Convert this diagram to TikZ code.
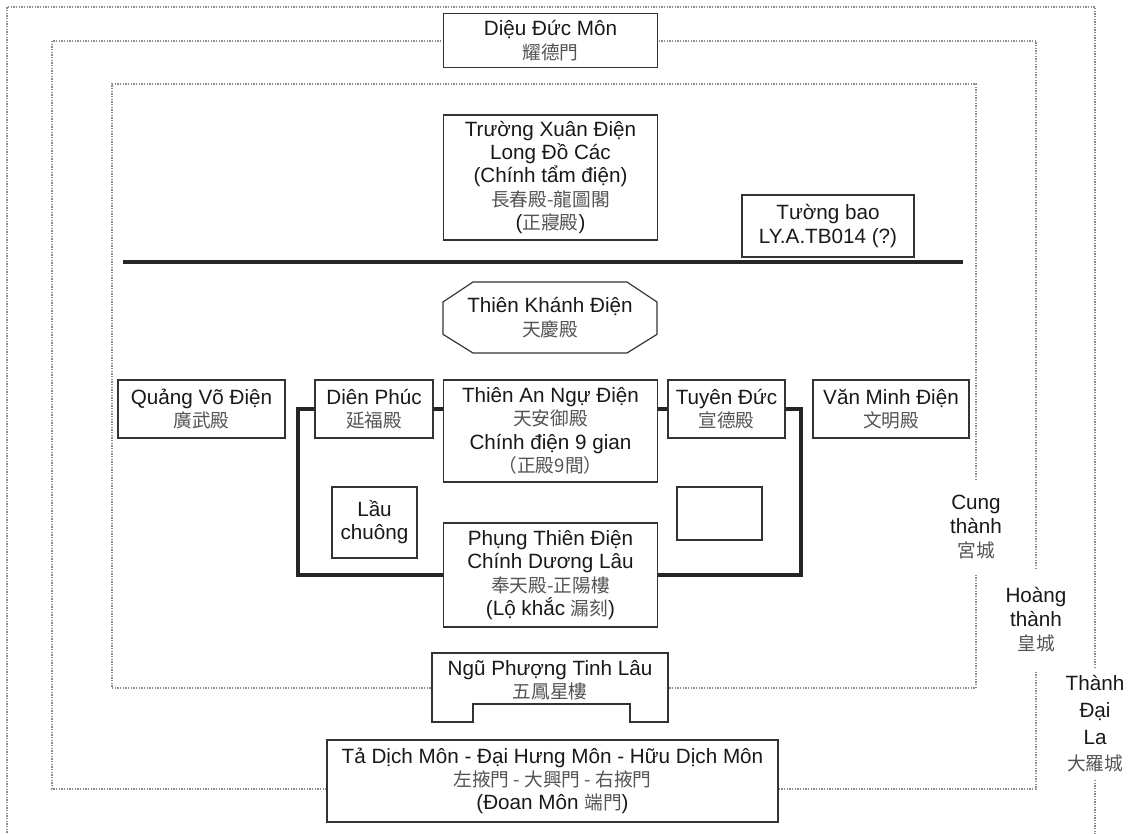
\documentclass[tikz,border=0pt]{standalone}
\usepackage{fontspec}
\setmainfont{Liberation Sans}
\newfontfamily\cjkfont{Noto Sans CJK TC}
\definecolor{hanGray}{gray}{0.33}
\definecolor{wallGray}{gray}{0.55}
\newcommand{\han}[1]{{\cjkfont\fontsize{14pt}{17.5pt}\selectfont\color{hanGray}#1}}

\begin{document}
\begin{tikzpicture}[x=0.75pt, y=-0.75pt,
		hall/.style={rectangle, draw=black!80, line width=0.9pt, fill=white, align=center,
			inner sep=2pt, text=black!90, font=\fontsize{15.5pt}{17.5pt}\selectfont},
		wallLabel/.style={align=center, inner sep=0pt, outer sep=0pt, text=black!90,
			font=\fontsize{15.5pt}{18pt}\selectfont},
		wall/.style={draw=wallGray, line width=1pt, dash pattern=on 1pt off 1pt},
		innerWall/.style={draw=black!85, line width=3pt}]
		
		\useasboundingbox (0,0) rectangle (1134,834);
		
		% Wall labels
		
		\node[wallLabel, minimum height=70.5pt]
		(cungThanh) at (976,527) {Cung\\thành\\\han{宮城}};
		
		\node[wallLabel, minimum height=76.5pt]
		(hoangThanh) at (1036,620) {Hoàng\\thành\\\han{皇城}};
		
		\node[wallLabel, minimum height=84pt, font=\fontsize{15.5pt}{20pt}\selectfont]
		(daiLa) at (1095,724) {Thành\\Đại\\La\\\han{大羅城}};
		
		% Walls
		
		\draw[wall] (daiLa.north) -- (1095,7) -- (7,7) -- (7,834);
		\draw[wall] (daiLa.south) -- (1095,834);
		
		\draw[wall] (hoangThanh.north) -- (1036,41) -- (52,41) -- (52,789) -- (1036,789) -- (hoangThanh.south);
		
		\draw[wall] (cungThanh.north) -- (976,84) -- (112,84) -- (112,688) -- (976,688) -- (cungThanh.south);
		
		\draw[innerWall] (123,262) -- (963,262);
		
		% Halls
		
		\node[hall, minimum width=160pt, minimum height=40pt]
		(dieuDucMon) at (550.5,40.5) {Diệu Đức Môn\\\han{耀德門}};
		
		\node[hall, minimum width=160pt, minimum height=93.75pt]
		(truongXuanDien) at (550.5,177.5) {Trường Xuân Điện\\Long Đồ Các\\(Chính tẩm điện)\\\han{長春殿-龍圖閣}\\(\han{正寢殿})};
		
		\node[hall, minimum width=129pt, minimum height=46.5pt]
		(tuongBao) at (828,226) {Tường bao\\LY.A.TB014 (?)};
		
		\node[hall, draw=none, fill=none, outer sep=0pt, minimum width=160.5pt, minimum height=53.25pt]
		(thienKhanhDien) at (550,317.5) {Thiên Khánh Điện\\\han{天慶殿}};
		
		\draw[draw=black!80, line width=0.9pt]
		([xshift=22.5pt]thienKhanhDien.north west) -- ([xshift=-22.5pt]thienKhanhDien.north east)
		-- ([yshift=-15pt]thienKhanhDien.north east) -- ([yshift=14pt]thienKhanhDien.south east)
		-- ([xshift=-22.5pt]thienKhanhDien.south east) -- ([xshift=22.5pt]thienKhanhDien.south west)
		-- ([yshift=14pt]thienKhanhDien.south west) -- ([yshift=-15pt]thienKhanhDien.north west) -- cycle;
		
		\node[hall, minimum width=125.25pt, minimum height=43.5pt]
		(quangVoDien) at (201.5,409) {Quảng Võ Điện\\\han{廣武殿}};
		
		\node[hall, minimum width=88.5pt, minimum height=43.5pt]
		(dienPhuc) at (374,409) {Diên Phúc\\\han{延福殿}};
		
		\node[hall, minimum width=160pt, minimum height=76.5pt]
		(thienAnDien) at (550.5,431) {Thiên An Ngự Điện\\\han{天安御殿}\\Chính điện 9 gian\\\han{（正殿9間）}};
		
		\node[hall, minimum width=87.75pt, minimum height=43.5pt]
		(tuyenDuc) at (726.5,409) {Tuyên Đức\\\han{宣德殿}};
		
		\node[hall, minimum width=117pt, minimum height=43.5pt]
		(vanMinhDien) at (891,409) {Văn Minh Điện\\\han{文明殿}};
		
		\node[hall, minimum width=63.75pt, minimum height=53.25pt]
		(lauChuong) at (374.5,522.5) {Lầu\\chuông};
		
		\node[hall, minimum width=63.75pt, minimum height=39.75pt]
		(emptyBox) at (719.5,513.5) {};
		
		\node[hall, minimum width=160pt, minimum height=78pt]
		(phungThienDien) at (550.5,575) {Phụng Thiên Điện\\Chính Dương Lâu\\\han{奉天殿-正陽樓}\\(Lộ khắc \han{漏刻})};
		
		% Gates
		
		\draw[draw=black!80, line width=0.9pt, fill=white] (432,653) -- (668,653) -- (668,722) -- (630,722)
		-- (630,704) -- (473,704) -- (473,722) -- (432,722) -- cycle;
		\node[hall, draw=none, fill=none]
		(nguPhuong) at (550,680) {Ngũ Phượng Tinh Lâu\\\han{五鳳星樓}};
		
		\node[hall, minimum width=338.25pt, minimum height=61.5pt]
		(doanMon) at (552.5,781) {Tả Dịch Môn - Đại Hưng Môn - Hữu Dịch Môn\\\han{左掖門 - 大興門 - 右掖門}\\(Đoan Môn \han{端門})};
		
		% Corridors
		
		\draw[innerWall] (dienPhuc.east) -- (thienAnDien.west |- dienPhuc.east);
		\draw[innerWall] (thienAnDien.east |- tuyenDuc.west) -- (tuyenDuc.west);
		\draw[innerWall] (dienPhuc.west) -- ++(-16,0) |- (phungThienDien.west);
		\draw[innerWall] (tuyenDuc.east) -- ++(15,0) |- (phungThienDien.east);
		
	\end{tikzpicture}
\end{document}
